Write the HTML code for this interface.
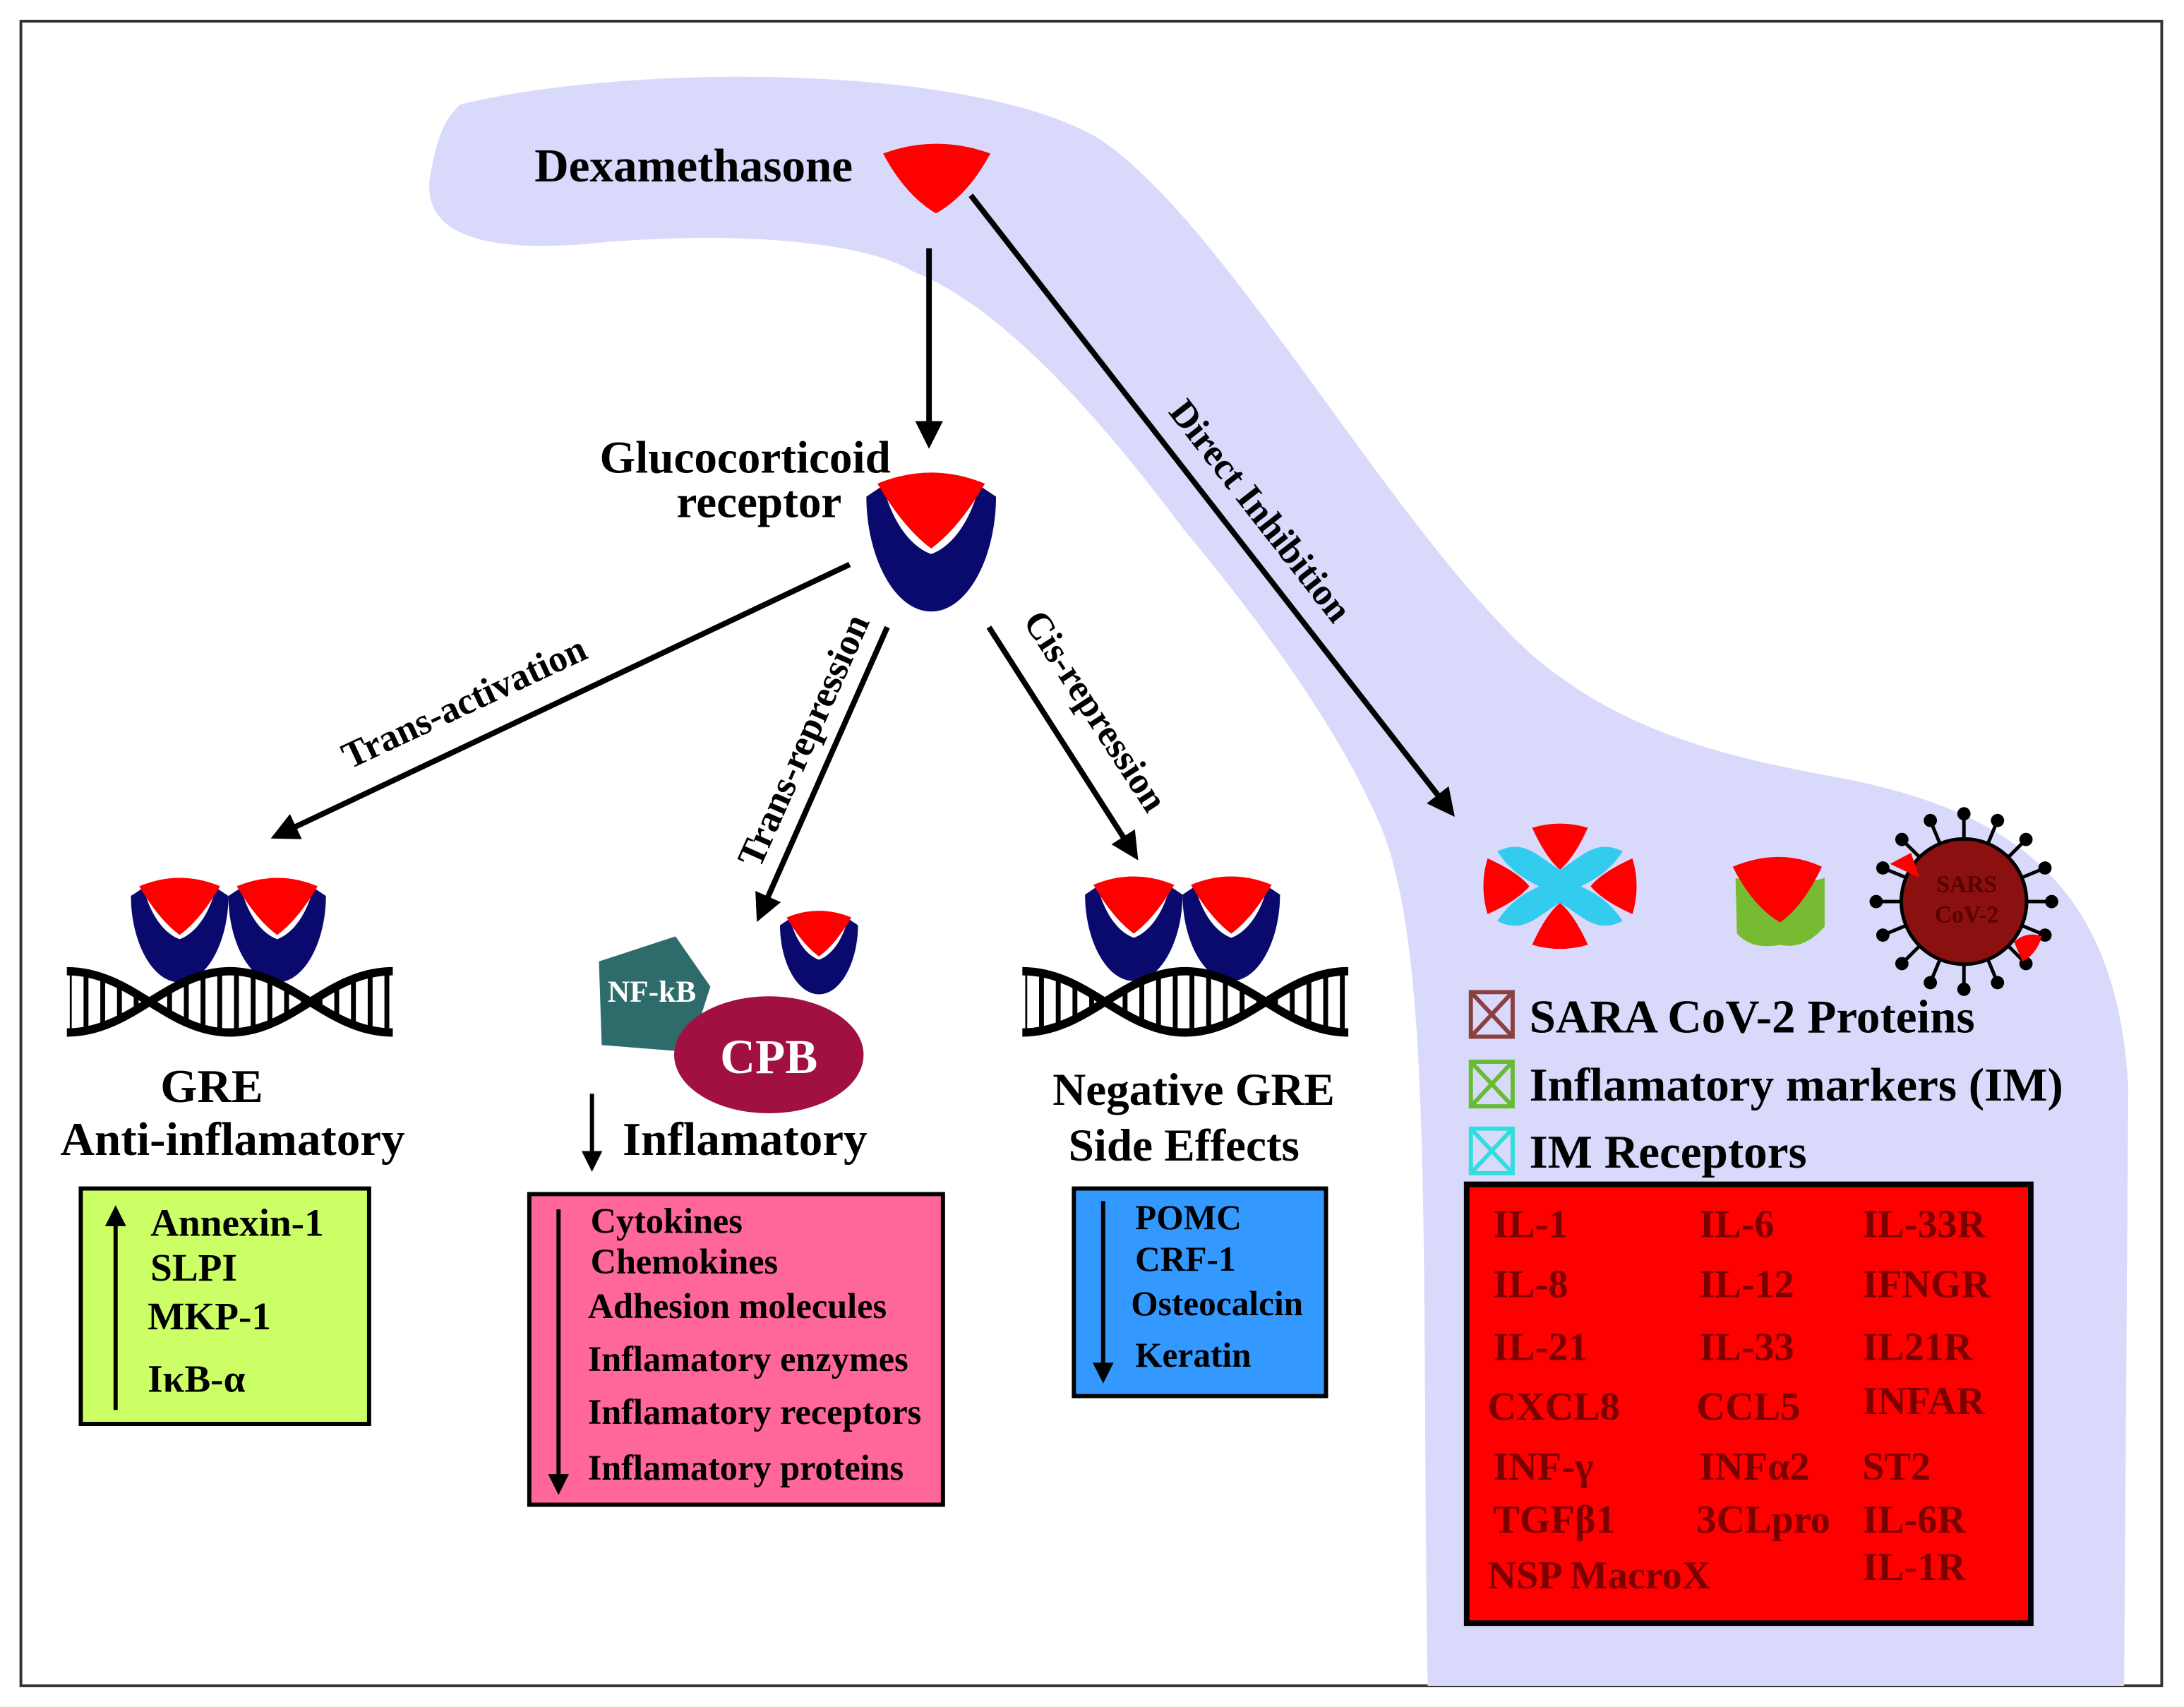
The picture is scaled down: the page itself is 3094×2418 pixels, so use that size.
<!DOCTYPE html>
<html><head><meta charset="utf-8"><style>
html,body{margin:0;padding:0;background:#fff}
svg{display:block}
text{font-family:"Liberation Serif",serif;font-weight:bold}
</style></head><body>
<svg width="3094" height="2418" viewBox="0 0 1568 1225" xmlns="http://www.w3.org/2000/svg">
<defs>
<g id="rec">
<path d="M0,10 C0,42 15,72 35,72 C55,72 70,42 70,10 L61,4 C56,24 46,37 35,41 C24,37 14,24 9,4 Z" fill="#0a0a6e"/>
<path d="M6,3 Q35,-9 64,3 Q50,27 35,38 Q20,27 6,3 Z" fill="#ff0000"/>
</g>
<pattern id="rungs" width="12" height="100" patternUnits="userSpaceOnUse"><rect x="0" y="0" width="3.5" height="100" fill="#000"/></pattern>
<clipPath id="lens1"><path d="M50,697 C95,697 120,741 165,741 C210,741 235,697 280,697 L280,741 C235,741 210,697 165,697 C120,697 95,741 50,741 Z"/></clipPath>
<marker id="ah" viewBox="0 0 10 10" refX="8" refY="5" markerWidth="5" markerHeight="5" orient="auto"><path d="M0,0 L10,5 L0,10 Z" fill="#000"/></marker>
</defs>
<rect width="1568" height="1225" fill="#fff"/>
<rect x="15" y="15" width="1537" height="1195" fill="none" stroke="#333" stroke-width="2"/>
<!-- blob -->
<path d="M330,75 C450,45 700,45 790,100 C880,160 1000,380 1100,470 C1170,530 1250,545 1330,560 C1450,585 1520,640 1528,780 L1525,1210 L1025,1210 C1020,900 1030,680 990,590 C960,520 900,440 850,380 C790,300 720,220 656,195 C620,172 520,165 420,175 C330,182 300,160 310,120 C315,95 320,85 330,75 Z" fill="#d9d9fb"/>

<!-- Dexamethasone -->
<text x="498" y="130" font-size="34" text-anchor="middle">Dexamethasone</text>
<path d="M634,110 Q672,96 711,110 Q695,140 672,153 Q650,140 634,110 Z" fill="#ff0000"/>
<g stroke="#000" stroke-width="4" fill="none">
<line x1="667" y1="178" x2="667" y2="318" marker-end="url(#ah)"/>
<line x1="697" y1="140" x2="1042" y2="583" marker-end="url(#ah)"/>
<line x1="610" y1="405" x2="198" y2="600" marker-end="url(#ah)"/>
<line x1="637" y1="450" x2="545" y2="658" marker-end="url(#ah)"/>
<line x1="710" y1="450" x2="815" y2="614" marker-end="url(#ah)"/>
</g>
<text x="535" y="339" font-size="33" text-anchor="middle">Glucocorticoid</text>
<text x="545" y="371" font-size="33" text-anchor="middle">receptor</text>
<use href="#rec" transform="translate(622,343) scale(1.33)"/>

<text transform="translate(337,512) rotate(-25)" font-size="27" text-anchor="middle">Trans-activation</text>
<text transform="translate(585,535) rotate(-66)" font-size="27" text-anchor="middle">Trans-repression</text>
<text transform="translate(779,515) rotate(57)" font-size="27" text-anchor="middle">Cis-repression</text>
<text transform="translate(898,372) rotate(52)" font-size="27" text-anchor="middle">Direct Inhibition</text>

<!-- left GRE -->
<use href="#rec" transform="translate(94,633) scale(1.0)"/>
<use href="#rec" transform="translate(164,633) scale(1.0)"/>
<g id="dna">
<rect x="50" y="690" width="230" height="60" fill="url(#rungs)" clip-path="url(#lens1)"/>
<path d="M48,697 C95,697 120,741 165,741 C210,741 235,697 282,697 M48,741 C95,741 120,697 165,697 C210,697 235,741 282,741" stroke="#000" stroke-width="6" fill="none"/>
</g>
<text x="152" y="791" font-size="34" text-anchor="middle">GRE</text>
<text x="167" y="829" font-size="34" text-anchor="middle">Anti-inflamatory</text>
<rect x="58" y="853" width="207" height="169" fill="#ccff66" stroke="#000" stroke-width="3"/>
<line x1="83" y1="1012" x2="83" y2="868" stroke="#000" stroke-width="3" marker-end="url(#ah)"/>
<g font-size="28"><text x="108" y="887">Annexin-1</text><text x="108" y="919">SLPI</text><text x="106" y="954">MKP-1</text><text x="106" y="999">IκB-α</text></g>

<!-- middle -->
<polygon points="430,690 485,672 510,708 495,755 432,750" fill="#2e6b6b"/>
<text x="468" y="719" font-size="22" fill="#fff" text-anchor="middle">NF-kB</text>
<ellipse cx="552" cy="757" rx="68" ry="42" fill="#a01040"/>
<text x="552" y="770" font-size="35" fill="#fff" text-anchor="middle">CPB</text>
<use href="#rec" transform="translate(560,656) scale(0.8)"/>
<line x1="425" y1="785" x2="425" y2="838" stroke="#000" stroke-width="3" marker-end="url(#ah)"/>
<text x="447" y="829" font-size="34">Inflamatory</text>
<rect x="380" y="857" width="297" height="223" fill="#ff6699" stroke="#000" stroke-width="3"/>
<line x1="401" y1="868" x2="401" y2="1070" stroke="#000" stroke-width="3" marker-end="url(#ah)"/>
<g font-size="25.5"><text x="424" y="885">Cytokines</text><text x="424" y="914">Chemokines</text><text x="422" y="946">Adhesion molecules</text><text x="422" y="984">Inflamatory enzymes</text><text x="422" y="1022">Inflamatory receptors</text><text x="422" y="1062">Inflamatory proteins</text></g>

<!-- right GRE -->
<use href="#rec" transform="translate(779,632) scale(1.0)"/>
<use href="#rec" transform="translate(849,632) scale(1.0)"/>
<use href="#dna" transform="translate(686,0) scale(1.0)"/>
<text x="857" y="793" font-size="33" text-anchor="middle">Negative GRE</text>
<text x="850" y="833" font-size="33" text-anchor="middle">Side Effects</text>
<rect x="771" y="853" width="181" height="149" fill="#3399ff" stroke="#000" stroke-width="3"/>
<line x1="792" y1="862" x2="792" y2="990" stroke="#000" stroke-width="3" marker-end="url(#ah)"/>
<g font-size="25"><text x="815" y="882">POMC</text><text x="815" y="912">CRF-1</text><text x="812" y="944">Osteocalcin</text><text x="815" y="981">Keratin</text></g>

<!-- right icons -->
<g transform="translate(1120,636)">
<path d="M-45,-25 C-25,-35 -15,-20 0,-12 C15,-20 25,-35 45,-25 C35,-10 25,-5 15,0 C25,5 35,10 45,25 C25,35 15,20 0,12 C-15,20 -25,35 -45,25 C-35,10 -25,5 -15,0 C-25,-5 -35,-10 -45,-25 Z" fill="#33ccee"/>
<path d="M-20,-42 Q0,-48 20,-42 Q10,-20 0,-12 Q-10,-20 -20,-42 Z" fill="#ff0000"/>
<path d="M-20,42 Q0,48 20,42 Q10,20 0,12 Q-10,20 -20,42 Z" fill="#ff0000"/>
<path d="M-52,-20 Q-58,0 -52,20 Q-30,10 -22,0 Q-30,-10 -52,-20 Z" fill="#ff0000"/>
<path d="M52,-20 Q58,0 52,20 Q30,10 22,0 Q30,-10 52,-20 Z" fill="#ff0000"/>
</g>
<path d="M1246,630 Q1278,640 1310,630 L1310,665 Q1295,682 1278,678 Q1258,682 1247,670 Z" fill="#77bb33"/>
<path d="M1244,622 Q1278,608 1308,622 Q1295,650 1278,662 Q1258,650 1244,622 Z" fill="#ff0000"/>
<g transform="translate(1410,647)" stroke="#000" stroke-width="2.5">
<g id="sp"><line x1="0" y1="-45" x2="0" y2="-62"/><circle cx="0" cy="-63" r="3.5" fill="#000"/></g>
<use href="#sp" transform="rotate(22.5)"/><use href="#sp" transform="rotate(45)"/><use href="#sp" transform="rotate(67.5)"/><use href="#sp" transform="rotate(90)"/><use href="#sp" transform="rotate(112.5)"/><use href="#sp" transform="rotate(135)"/><use href="#sp" transform="rotate(157.5)"/><use href="#sp" transform="rotate(180)"/><use href="#sp" transform="rotate(202.5)"/><use href="#sp" transform="rotate(225)"/><use href="#sp" transform="rotate(247.5)"/><use href="#sp" transform="rotate(270)"/><use href="#sp" transform="rotate(292.5)"/><use href="#sp" transform="rotate(315)"/><use href="#sp" transform="rotate(337.5)"/>
<circle r="45" fill="#8b1010"/>
</g>
<text x="1412" y="640" font-size="17" fill="#5a0000" text-anchor="middle" font-weight="normal">SARS</text>
<text x="1412" y="662" font-size="17" fill="#5a0000" text-anchor="middle" font-weight="normal">CoV-2</text>
<path d="M1357,620 L1372,612 L1378,630 Z" fill="#ff0000"/>
<path d="M1446,676 Q1455,668 1466,672 Q1462,685 1452,690 Z" fill="#ff0000"/>

<!-- legend -->
<g stroke-width="3" fill="none">
<g stroke="#8b4040"><rect x="1056" y="712" width="30" height="32"/><path d="M1056,712 L1086,744 M1086,712 L1056,744"/></g>
<g stroke="#66bb33"><rect x="1056" y="762" width="30" height="32"/><path d="M1056,762 L1086,794 M1086,762 L1056,794"/></g>
<g stroke="#33dddd"><rect x="1056" y="810" width="30" height="32"/><path d="M1056,810 L1086,842 M1086,810 L1056,842"/></g>
</g>
<g font-size="34"><text x="1098" y="741">SARA CoV-2 Proteins</text><text x="1098" y="790">Inflamatory markers (IM)</text><text x="1098" y="838">IM Receptors</text></g>
<rect x="1053" y="850" width="405" height="315" fill="#ff0000" stroke="#000" stroke-width="4"/>
<g font-size="28.5" fill="#7a0000">
<text x="1072" y="888">IL-1</text><text x="1072" y="931">IL-8</text><text x="1072" y="976">IL-21</text><text x="1068" y="1019">CXCL8</text><text x="1072" y="1062">INF-γ</text><text x="1072" y="1100">TGFβ1</text><text x="1068" y="1140">NSP MacroX</text>
<text x="1220" y="888">IL-6</text><text x="1220" y="931">IL-12</text><text x="1220" y="976">IL-33</text><text x="1218" y="1019">CCL5</text><text x="1220" y="1062">INFα2</text><text x="1218" y="1100">3CLpro</text>
<text x="1337" y="888">IL-33R</text><text x="1337" y="931">IFNGR</text><text x="1337" y="976">IL21R</text><text x="1337" y="1015">INFAR</text><text x="1337" y="1062">ST2</text><text x="1337" y="1100">IL-6R</text><text x="1337" y="1134">IL-1R</text>
</g>
</svg>
</body></html>
